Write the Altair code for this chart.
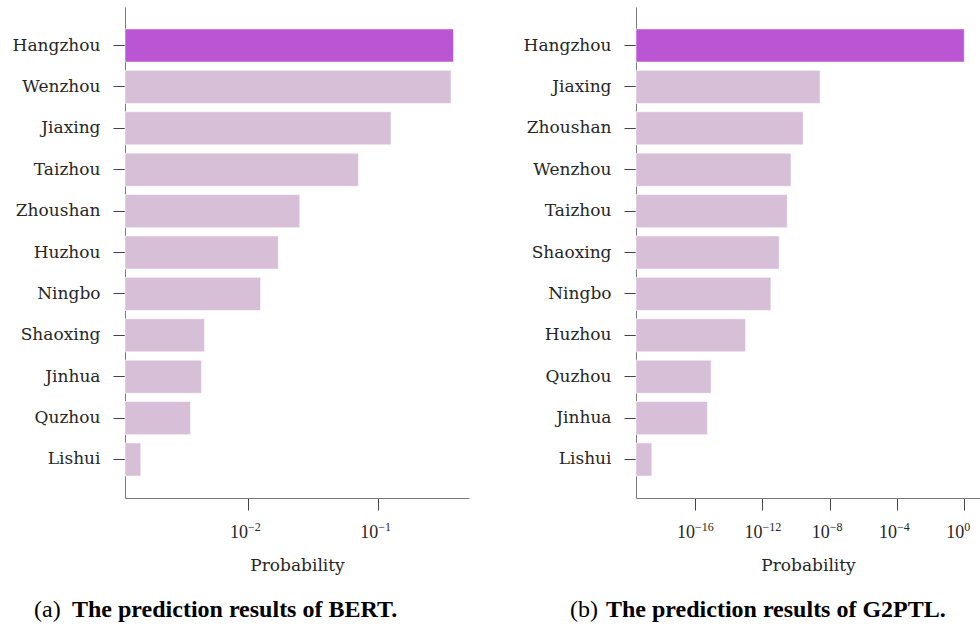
import altair as alt
import pandas as pd

# Top-11 city predictions, BERT
bert_cities = ["Hangzhou", "Wenzhou", "Jiaxing", "Taizhou", "Zhoushan", "Huzhou",
               "Ningbo", "Shaoxing", "Jinhua", "Quzhou", "Lishui"]
bert_probs = [0.377, 0.361, 0.125, 0.0703, 0.0250, 0.0171, 0.0125,
              0.00465, 0.00441, 0.00363, 0.00151]

# Top-11 city predictions, G2PTL
g2ptl_cities = ["Hangzhou", "Jiaxing", "Zhoushan", "Wenzhou", "Taizhou", "Shaoxing",
                "Ningbo", "Huzhou", "Quzhou", "Jinhua", "Lishui"]
g2ptl_probs = [0.99, 2.7e-9, 2.7e-10, 5.0e-11, 3.0e-11, 1.0e-11, 3.2e-12,
               1.0e-13, 8.9e-16, 5.4e-16, 2.7e-19]

# Axis ticks (powers of ten) and captions
bert_ticks = [-2, -1]
g2ptl_ticks = [-16, -12, -8, -4, 0]
bert_domain = [10 ** -2.942, 10 ** -0.305]
g2ptl_domain = [10 ** -19.51, 10 ** 0.93]
captions_a = ["(a)", "The prediction results of BERT."]
captions_b = ["(b)", "The prediction results of G2PTL."]

HIGHLIGHT = "#BA55D3"
REST = "#D8BFD8"
TEXT = "#262626"
LABEL_FONT = "DejaVu Serif"
NUM_FONT = "Liberation Serif"
CAPTION_FONT = "Liberation Serif"
W, H = 344, 491


def panel(cities, probs, exps, domain, captions, cap_x):
    df = pd.DataFrame({"city": cities, "prob": probs})
    xscale = alt.Scale(type="log", domain=domain, nice=False)

    # Bars grow from the left edge of the log axis
    bars = alt.Chart(df).mark_bar(
        stroke="white", strokeOpacity=0.55, strokeWidth=1
    ).encode(
        y=alt.Y("city:N", sort=None, title=None,
                scale=alt.Scale(paddingInner=0.2, paddingOuter=0.53),
                axis=alt.Axis(labelFont=LABEL_FONT, labelFontSize=17,
                              labelColor=TEXT, labelPadding=13,
                              tickSize=12, tickColor="#444444",
                              domainColor="#7a7a7a", grid=False)),
        x=alt.X("prob:Q", title="Probability", scale=xscale, stack=None,
                axis=alt.Axis(values=[10.0 ** e for e in exps], labels=False,
                              tickSize=12, tickColor="#444444",
                              domainColor="#7a7a7a", grid=False,
                              titleFont=LABEL_FONT, titleFontSize=17,
                              titleFontWeight="normal", titleColor=TEXT,
                              titlePadding=47)),
        x2=alt.value(0),
        color=alt.condition(f"datum.city == '{cities[0]}'",
                            alt.value(HIGHLIGHT), alt.value(REST)),
    )

    # Power-of-ten tick labels: "10" plus a raised exponent
    ticks = pd.DataFrame({"e": exps})
    tick_base = alt.Chart(ticks).transform_calculate(
        v="pow(10, datum.e)",
        ex="datum.e < 0 ? '\u2212' + abs(datum.e) : '' + datum.e",
        off="(18 - 6.2 * length(datum.ex)) / 2",
    )
    tens = tick_base.mark_text(
        font=NUM_FONT, fontSize=18, align="right", baseline="alphabetic", color=TEXT
    ).encode(
        x=alt.X("v:Q", scale=xscale),
        xOffset=alt.XOffset("off:Q", scale=None),
        y=alt.value(H + 40),
        text=alt.value("10"),
    )
    powers = tick_base.mark_text(
        font=NUM_FONT, fontSize=12, align="left", baseline="alphabetic", color=TEXT
    ).encode(
        x=alt.X("v:Q", scale=xscale),
        xOffset=alt.XOffset("off:Q", scale=None),
        y=alt.value(H + 33),
        text="ex:N",
    )

    tag = alt.Chart(pd.DataFrame({"t": [captions[0]]})).mark_text(
        font=CAPTION_FONT, fontSize=24, align="left", baseline="alphabetic",
        color="black"
    ).encode(text="t:N", x=alt.value(cap_x[0]), y=alt.value(610))
    body = alt.Chart(pd.DataFrame({"t": [captions[1]]})).mark_text(
        font=CAPTION_FONT, fontSize=24, fontWeight="bold", align="left",
        baseline="alphabetic", color="black"
    ).encode(text="t:N", x=alt.value(cap_x[1]), y=alt.value(610))
    return alt.layer(bars, tens, powers, tag, body).properties(width=W, height=H)


left = panel(bert_cities, bert_probs, bert_ticks, bert_domain, captions_a, (-91, -53))
right = panel(g2ptl_cities, g2ptl_probs, g2ptl_ticks, g2ptl_domain, captions_b, (-66, -30))

chart = alt.hconcat(left, right, spacing=54).properties(
    padding={"left": 12, "top": 7, "right": 0, "bottom": 0},
    background="white",
).configure_view(stroke=None)

chart.save("out.html", embed_options={"renderer": "svg", "actions": False})
